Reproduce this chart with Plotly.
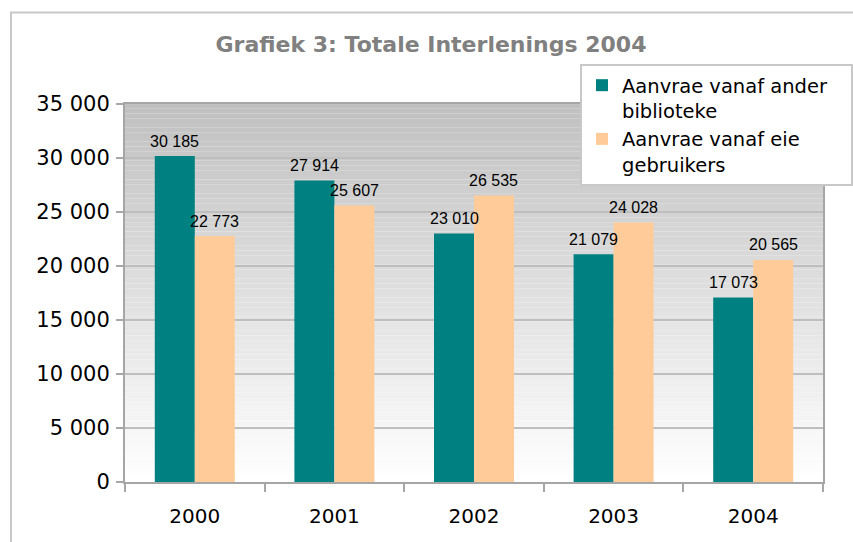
import plotly.graph_objects as go

# ---- data ----
years = ["2000", "2001", "2002", "2003", "2004"]
series_names = ["Aanvrae vanaf ander<br>biblioteke", "Aanvrae vanaf eie<br>gebruikers"]
ander_biblioteke = [30185, 27914, 23010, 21079, 17073]
eie_gebruikers = [22773, 25607, 26535, 24028, 20565]
y_tickvals = [0, 5000, 10000, 15000, 20000, 25000, 30000, 35000]
title_text = "Grafiek 3: Totale Interlenings 2004"

# ---- style ----
W, H = 853, 542
ML, MR, MT, MB = 125, 30, 104, 60
PW, PH = W - ML - MR, H - MT - MB
colors = ["#008080", "#FFCC99"]
BARGAP = 0.427
LEGEND_PAD = "\u00a0\u00a0\u00a0"  # widens the legend box to the right


def fmt(v):
    return f"{v:,}".replace(",", " ")


fig = go.Figure()
for name, vals, col in zip(series_names, [ander_biblioteke, eie_gebruikers], colors):
    fig.add_trace(go.Bar(
        x=years, y=vals, name=name.replace("<br>", LEGEND_PAD + "<br>", 1),
        marker=dict(color=col, line=dict(width=0)),
        legendgroup=name, hoverinfo="skip",
    ))

# value labels above the bars
cat_w = PW / len(years)
bar_w = cat_w * (1 - BARGAP) / 2
annotations = []
for k, vals in enumerate([ander_biblioteke, eie_gebruikers]):
    shift = (-0.5 if k == 0 else 0.5) * bar_w
    for i, v in enumerate(vals):
        annotations.append(dict(
            x=i, y=v, xref="x", yref="y", text=fmt(v), showarrow=False,
            xshift=shift, yshift=15, yanchor="middle", xanchor="center",
            font=dict(family="Liberation Sans, Arial", size=16, color="#000000"),
        ))

# vertical gradient background of the plot area
shapes = []
N = 80
top_c, bot_c = 192, 255
for i in range(N):
    f = (i + 0.5) / N
    c = round(bot_c + (top_c - bot_c) * f)
    shapes.append(dict(
        type="rect", xref="paper", yref="paper", x0=0, x1=1, y0=i / N, y1=(i + 1) / N,
        fillcolor=f"rgb({c},{c},{c})", line=dict(width=0), layer="below",
    ))

# outer chart frame
shapes.append(dict(
    type="rect", xref="paper", yref="paper",
    x0=(11 - ML) / PW, x1=1.2, y0=-0.4, y1=1 + (MT - 12.5) / PH,
    line=dict(color="#C8C8C8", width=2), fillcolor="rgba(0,0,0,0)", layer="below",
))

fig.update_layout(
    width=W, height=H,
    margin=dict(l=ML, r=MR, t=MT, b=MB, autoexpand=False),
    paper_bgcolor="white", plot_bgcolor="white",
    barmode="group", bargap=BARGAP, bargroupgap=0,
    separators=", ",
    title=dict(
        text=title_text, x=431 / W, xanchor="center", xref="container",
        y=1 - 44 / H, yanchor="middle", yref="container",
        font=dict(family="DejaVu Sans", size=22, color="#808080", weight="bold"),
    ),
    legend=dict(
        x=(580 - ML) / PW, y=1 + (MT - 64) / PH, xanchor="left", yanchor="top",
        bgcolor="white", bordercolor="#C8C8C8", borderwidth=2,
        font=dict(family="DejaVu Sans", size=19.5, color="#000000"),
        valign="top", tracegroupgap=0, traceorder="grouped",
    ),
    showlegend=True,
    shapes=shapes,
    annotations=annotations,
    xaxis=dict(
        type="category", range=[-0.5, len(years) - 0.5],
        tickson="boundaries", ticks="outside", ticklen=8,
        tickwidth=1.5, tickcolor="#A6A6A6",
        showline=True, linecolor="#A6A6A6", linewidth=2, mirror=True,
        showgrid=False, ticklabelstandoff=15,
        tickfont=dict(family="DejaVu Sans", size=20, color="#000000"),
        fixedrange=True,
    ),
    yaxis=dict(
        range=[0, 35000], tickvals=y_tickvals, tickformat=",d",
        ticks="outside", ticklen=7, tickwidth=1.5, tickcolor="#A6A6A6",
        showline=True, linecolor="#A6A6A6", linewidth=2, mirror=True,
        showgrid=True, gridcolor="#BEBEBE", gridwidth=1.5, zeroline=False,
        ticklabelstandoff=2,
        tickfont=dict(family="DejaVu Sans", size=21, color="#000000"),
        fixedrange=True,
    ),
)

fig.write_html(
    "out.html",
    config={"displayModeBar": False},
    post_script="document.body.style.margin='0px';",
)
